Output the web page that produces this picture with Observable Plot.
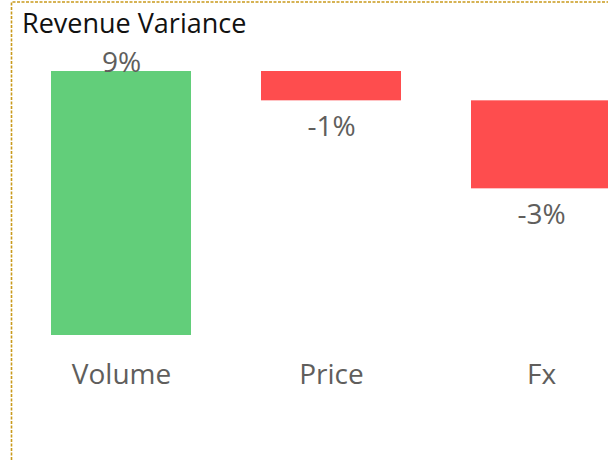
<!DOCTYPE html>
<html>
<head>
<meta charset="utf-8">
<script src="https://cdn.jsdelivr.net/npm/d3@7"></script>
<script src="https://cdn.jsdelivr.net/npm/@observablehq/plot@0.6"></script>
<style>
  html, body { margin: 0; padding: 0; background: #fff; }
  #wrap { position: relative; width: 608px; height: 460px; overflow: hidden; }
  #border { position: absolute; left: 0; top: 0; }
  #title { position: absolute; left: 22px; top: 9px; font-family: "Open Sans", sans-serif;
           font-size: 27px; line-height: 27px; color: #111; white-space: nowrap; }
  #chart { position: absolute; left: 0; top: 0; }
</style>
</head>
<body>
<div id="wrap">
  <svg id="border" width="608" height="460">
    <path d="M11.5,460 V2 H608" fill="none" stroke="#c99a1c" stroke-width="1.6" stroke-dasharray="3 1.5"/>
  </svg>
  <div id="chart"></div>
  <div id="title">Revenue Variance</div>
</div>
<script>
const categories = ["Volume", "Price", "Fx"];
const values = [9, -1, -3]; // percent variance

let running = 0;
const rows = categories.map((c, i) => {
  const start = running;
  running += values[i];
  return {category: c, value: values[i], start, end: running,
          label: (values[i] < 0 ? "-" : "") + Math.abs(values[i]) + "%"};
});

const pos = rows.filter(d => d.value >= 0);
const neg = rows.filter(d => d.value < 0);

const fontFamily = '"Open Sans", sans-serif';

const chart = Plot.plot({
  width: 608,
  height: 460,
  marginTop: 71,
  marginBottom: 125,
  marginLeft: 0,
  marginRight: 0,
  style: {fontFamily, background: "transparent", overflow: "visible"},
  x: {domain: categories, range: [50.5, 611.5], paddingInner: 0.335, paddingOuter: 0, label: null},
  y: {domain: [0, 9], axis: null},
  marks: [
    Plot.barY(rows, {x: "category", y1: "start", y2: "end",
      fill: d => d.value >= 0 ? "#62ce7a" : "#fe4d4e"}),
    Plot.text(pos, {x: "category", y: "end", text: "label", dy: -8,
      fontSize: 28, fill: "#605e5c", textAnchor: "middle", lineAnchor: "middle"}),
    Plot.text(neg, {x: "category", y: "end", text: "label", dy: 26,
      fontSize: 28, fill: "#605e5c", textAnchor: "middle", lineAnchor: "middle"}),
    Plot.axisX({tickSize: 0, tickPadding: 29, fontSize: 28, color: "#605e5c", label: null})
  ]
});
document.getElementById("chart").appendChild(chart);
</script>
</body>
</html>
